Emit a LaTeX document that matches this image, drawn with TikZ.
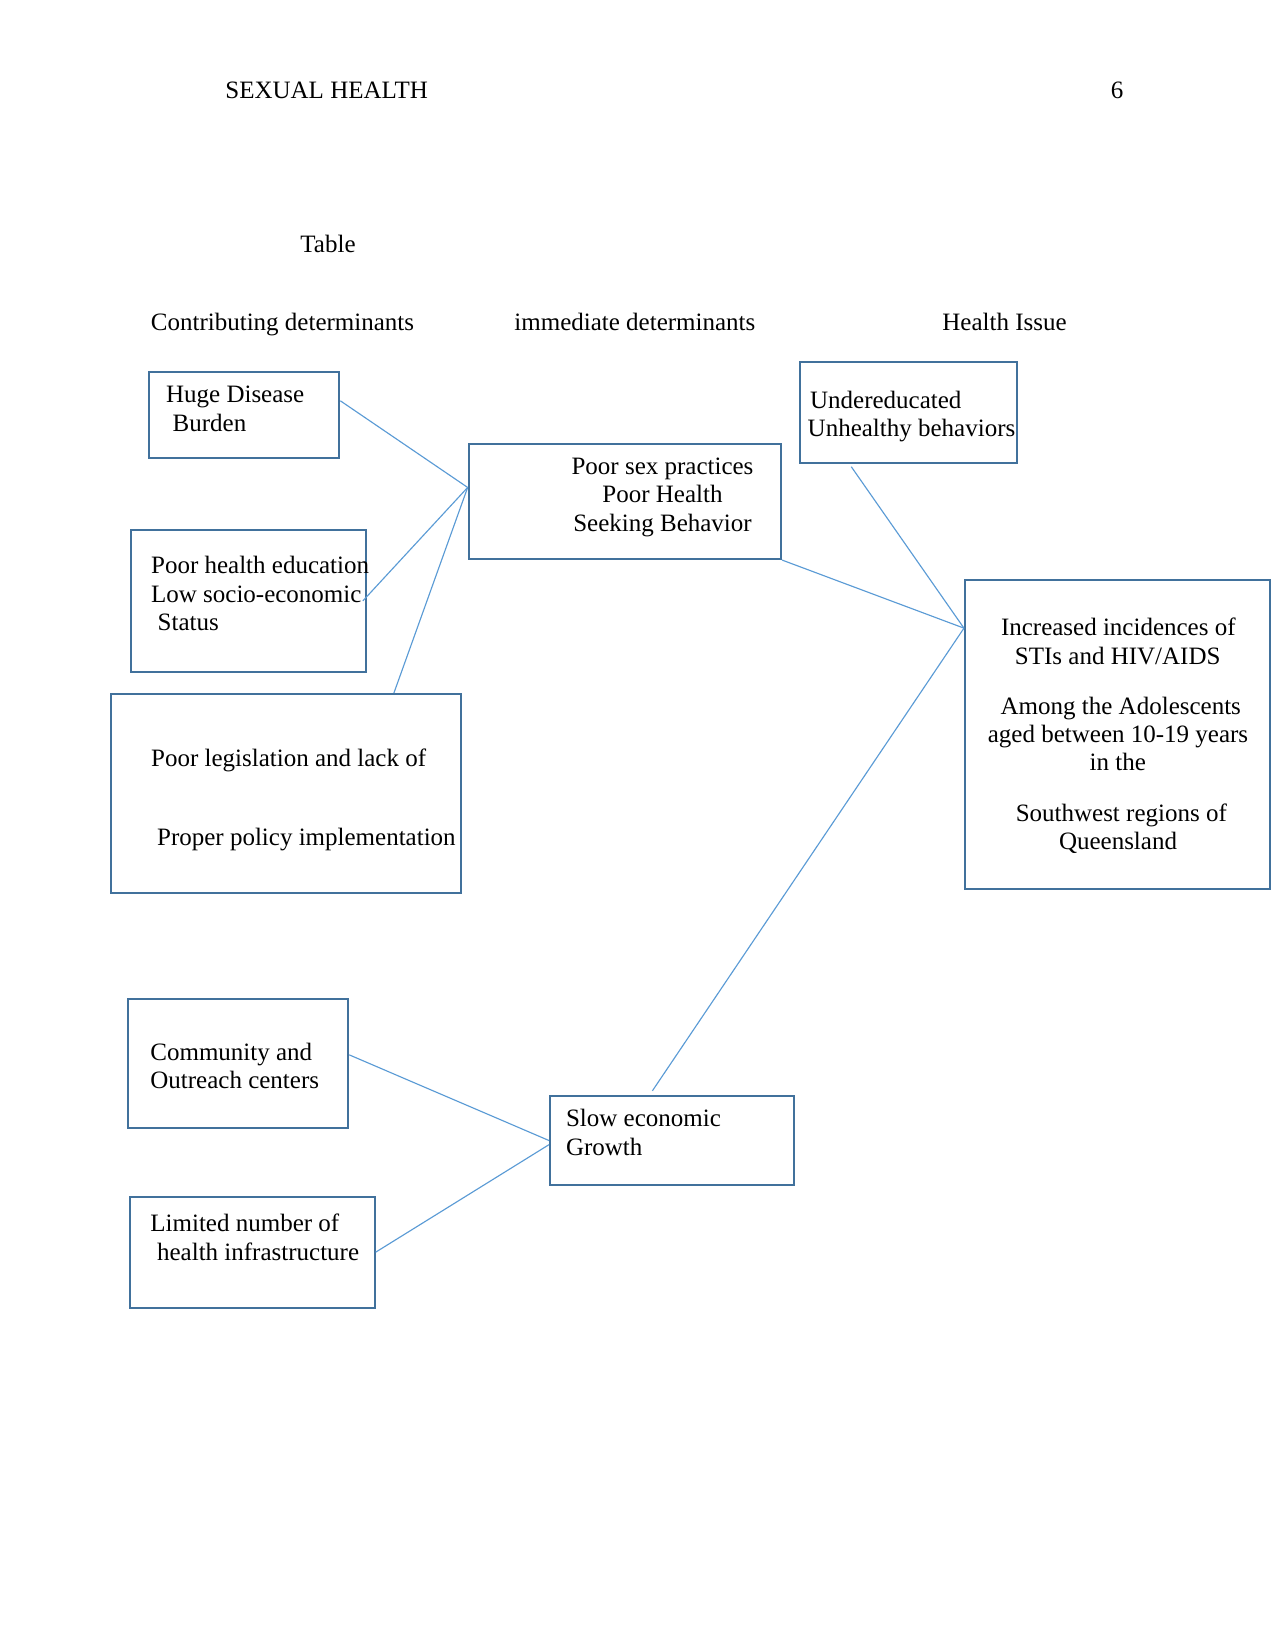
\documentclass[tikz,border=0pt]{standalone}
\usepackage{fontspec}
\setmainfont{Liberation Serif}
\usetikzlibrary{fit,calc}
\definecolor{boxblue}{HTML}{41719C}
\definecolor{lineblue}{HTML}{5B9BD5}
\begin{document}
\begin{tikzpicture}[x=0.48pt,y=-0.48pt,
  box/.style={draw=boxblue, line width=1pt, inner sep=0pt},
  conn/.style={draw=lineblue, line width=0.55pt},
  tl/.style={inner sep=0pt, anchor=base west, font=\fontsize{12}{13.8}\selectfont},
  tc/.style={inner sep=0pt, anchor=base, font=\fontsize{12}{13.8}\selectfont}]
\useasboundingbox (0,0) rectangle (1275,1651);

% header
\node[tl] (hdr) at (225,99) {SEXUAL HEALTH};
\node[tc] (pg) at (1117,99) {6};
\node[tl] (tab) at (300,252) {Table};
\node[tl] (c1) at (150.5,330.5) {Contributing determinants};
\node[tl] (c2) at (514,330.5) {immediate determinants};
\node[tl] (c3) at (942,330.5) {Health Issue};

% boxes
\node[box, fit={(149.3,372) (339.3,457.7)}] (hd) {};
\node[box, fit={(130.7,530) (366,671.7)}] (phe) {};
\node[box, fit={(110.7,694) (461.3,893.3)}] (leg) {};
\node[box, fit={(468.7,444) (781,559)}] (ps) {};
\node[box, fit={(799.7,362.3) (1017,462.6)}] (und) {};
\node[box, fit={(965,580.4) (1270,889.1)}] (inc) {};
\node[box, fit={(127.7,999) (348.2,1127.7)}] (comm) {};
\node[box, fit={(550,1096) (794.2,1185)}] (se) {};
\node[box, fit={(130,1196.7) (374.6,1307.7)}] (lim) {};

% texts
\node[tl] (hdA) at (165.7,402) {Huge Disease};
\node[tl] (hdB) at (172.3,431) {Burden};

\node[tl] (pheA) at (150.7,573.5) {Poor health education};
\node[tl] (pheB) at (150.7,602.5) {Low socio-economic};
\node[tl] (pheC) at (157.3,630) {Status};

\node[tl] (legA) at (150.7,766.7) {Poor legislation and lack of};
\node[tl] (legB) at (156.7,845) {Proper policy implementation};

\node[tc] (psA) at (662.5,474) {Poor sex practices};
\node[tc] (psB) at (662.5,502.7) {Poor Health};
\node[tc] (psC) at (662.5,531.7) {Seeking Behavior};

\node[tl] (undA) at (809.7,408) {Undereducated};
\node[tl] (undB) at (807.3,436.6) {Unhealthy behaviors};

\node[tc] (incA) at (1118.3,635.9) {Increased incidences of};
\node[tc] (incB) at (1117.7,664.6) {STIs and HIV/AIDS};
\node[tc] (incC) at (1120.8,714.8) {Among the Adolescents};
\node[tc] (incD) at (1118,742.8) {aged between 10-19 years};
\node[tc] (incE) at (1117.8,770.9) {in the};
\node[tc] (incF) at (1121.3,821.8) {Southwest regions of};
\node[tc] (incG) at (1118,849.8) {Queensland};

\node[tl] (commA) at (150,1060) {Community and};
\node[tl] (commB) at (150,1088.3) {Outreach centers};

\node[tl] (seA) at (565.6,1126.7) {Slow economic};
\node[tl] (seB) at (565.6,1155) {Growth};

\node[tl] (limA) at (150,1231.7) {Limited number of};
\node[tl] (limB) at (156.7,1260) {health infrastructure};

% connectors
\coordinate (psin) at ($(ps.north west)!0.38!(ps.south west)$);
\coordinate (incin) at ($(inc.north west)!0.157!(inc.south west)$);

\draw[conn] ($(hd.north east)!0.34!(hd.south east)$) -- (psin);
\draw[conn] ([xshift=-2pt]phe.east) -- (psin);
\draw[conn] ($(leg.north west)!0.806!(leg.north east)$) -- (psin);

\draw[conn] (ps.south east) -- (incin);
\draw[conn] ([yshift=-1.5pt]$(und.south west)!0.24!(und.south east)$) -- (incin);
\draw[conn] ([yshift=2pt]$(se.north west)!0.42!(se.north east)$) -- (incin);

\draw[conn] ($(comm.north east)!0.435!(comm.south east)$) -- (se.west);
\draw[conn] (lim.east) -- ([yshift=-2pt]se.west);
\end{tikzpicture}
\end{document}
